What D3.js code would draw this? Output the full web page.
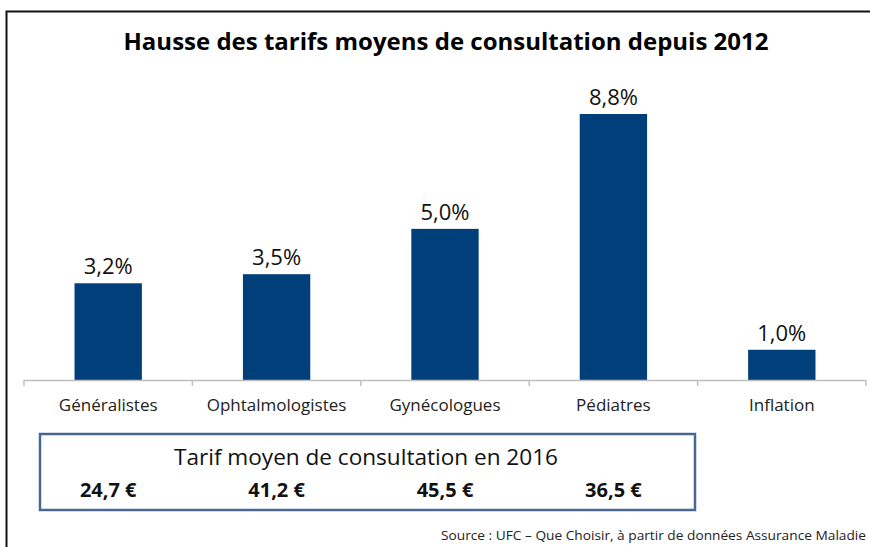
<!DOCTYPE html>
<html lang="fr">
<head>
<meta charset="utf-8">
<title>Hausse des tarifs moyens de consultation depuis 2012</title>
<script src="https://d3js.org/d3.v7.min.js"></script>
<style>
  body { margin: 0; background: #fff; }
  svg { display: block; font-family: "Open Sans", "Noto Sans", sans-serif; }
</style>
</head>
<body>
<svg id="chart" width="870" height="547"></svg>
<script>
// Data
var categories = ["Généralistes", "Ophtalmologistes", "Gynécologues", "Pédiatres", "Inflation"];
var hausses = [3.2, 3.5, 5.0, 8.8, 1.0];
var tarifs2016 = ["24,7 €", "41,2 €", "45,5 €", "36,5 €"];

var barColour = "#003f7a";
var svg = d3.select("#chart");

// Frame (top + left border of the original picture)
svg.append("rect")
  .attr("x", 6.5).attr("y", 11.5)
  .attr("width", 900).attr("height", 600)
  .attr("fill", "none")
  .attr("stroke", "#111").attr("stroke-width", 2);

// Title
svg.append("text")
  .attr("x", 446).attr("y", 50)
  .attr("text-anchor", "middle")
  .attr("font-size", 23).attr("font-weight", "bold")
  .attr("textLength", 645).attr("lengthAdjust", "spacingAndGlyphs")
  .text("Hausse des tarifs moyens de consultation depuis 2012");

// Scales
var x = d3.scaleBand().domain(categories).range([24, 866]).paddingInner(0.6).paddingOuter(0.3);
var y = d3.scaleLinear().domain([0, 8.8]).range([380, 114]);
var step = x.step();

// Bars
svg.selectAll("rect.bar").data(categories).enter().append("rect")
  .attr("class", "bar")
  .attr("x", function(d) { return x(d); })
  .attr("width", x.bandwidth())
  .attr("y", function(d, i) { return y(hausses[i]); })
  .attr("height", function(d, i) { return y(0) - y(hausses[i]); })
  .attr("fill", barColour);

// Value labels
svg.selectAll("text.val").data(categories).enter().append("text")
  .attr("class", "val")
  .attr("x", function(d) { return x(d) + x.bandwidth() / 2; })
  .attr("y", function(d, i) { return y(hausses[i]) - 9; })
  .attr("text-anchor", "middle")
  .attr("font-size", 22).attr("fill", "#111")
  .text(function(d, i) { return hausses[i].toFixed(1).replace(".", ",") + "%"; });

// Axis line with ticks between categories
var axis = svg.append("g");
axis.append("line")
  .attr("x1", 24).attr("x2", 866).attr("y1", 380.5).attr("y2", 380.5)
  .attr("stroke", "#bfbfbf").attr("stroke-width", 1.5);
var tickXs = d3.range(categories.length + 1).map(function(i) { return 24 + i * step; });
axis.selectAll("line.tick").data(tickXs).enter().append("line")
  .attr("class", "tick")
  .attr("x1", function(d) { return d; }).attr("x2", function(d) { return d; })
  .attr("y1", 380).attr("y2", 386)
  .attr("stroke", "#bfbfbf").attr("stroke-width", 1.5);
axis.selectAll("text").data(categories).enter().append("text")
  .attr("x", function(d) { return x(d) + x.bandwidth() / 2; })
  .attr("y", 411)
  .attr("text-anchor", "middle")
  .attr("font-size", 17).attr("fill", "#222")
  .text(function(d) { return d; });

// Box with 2016 tariffs
svg.append("rect")
  .attr("x", 40).attr("y", 434)
  .attr("width", 655).attr("height", 76)
  .attr("fill", "#fff")
  .attr("stroke", "#4a6792").attr("stroke-width", 2.5);
svg.append("text")
  .attr("x", 366).attr("y", 465)
  .attr("text-anchor", "middle")
  .attr("font-size", 22).attr("fill", "#111")
  .attr("textLength", 384).attr("lengthAdjust", "spacingAndGlyphs")
  .text("Tarif moyen de consultation en 2016");
svg.selectAll("text.tarif").data(tarifs2016).enter().append("text")
  .attr("class", "tarif")
  .attr("x", function(d, i) { return x(categories[i]) + x.bandwidth() / 2; })
  .attr("y", 497)
  .attr("text-anchor", "middle")
  .attr("font-size", 20).attr("font-weight", "bold").attr("fill", "#111")
  .text(function(d) { return d; });

// Source
svg.append("text")
  .attr("x", 866).attr("y", 540)
  .attr("text-anchor", "end")
  .attr("font-size", 13).attr("fill", "#222")
  .attr("textLength", 425).attr("lengthAdjust", "spacingAndGlyphs")
  .text("Source : UFC – Que Choisir, à partir de données Assurance Maladie");
</script>
</body>
</html>
